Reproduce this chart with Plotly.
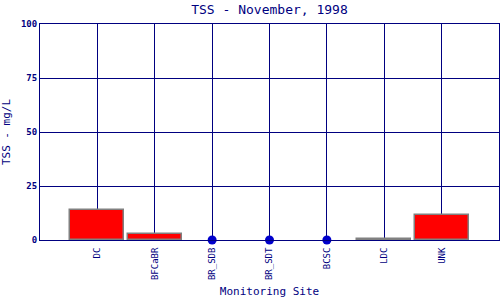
import plotly.graph_objects as go

sites = ["DC", "BFCaBR", "BR_SDB", "BR_SDT", "BCSC", "LDC", "UNK"]
tss = [13.9, 2.7, 0, 0, 0, 0.6, 11.6]

navy = "#000080"
font = "DejaVu Sans Mono"

bar_x = [s for s, v in zip(sites, tss) if v > 0]
bar_y = [v for v in tss if v > 0]
dot_x = [s for s, v in zip(sites, tss) if v == 0]
dot_y = [v for v in tss if v == 0]

fig = go.Figure()
fig.add_trace(go.Bar(x=bar_x, y=bar_y, width=0.94,
                     marker=dict(color="#FF0000", line=dict(color="#808080", width=1.5)),
                     showlegend=False))
fig.add_trace(go.Scatter(x=dot_x, y=dot_y, mode="markers",
                         marker=dict(color="#0000CC", size=9),
                         showlegend=False, cliponaxis=False))

fig.update_layout(
    width=500, height=300,
    margin=dict(l=40, r=1, t=24, b=60),
    paper_bgcolor="white", plot_bgcolor="white",
    title=dict(text="TSS - November, 1998", x=0.5, xref="paper", xanchor="center",
               y=0.97, yanchor="middle",
               font=dict(family=font, size=13, color=navy)),
    font=dict(family=font, color=navy),
    xaxis=dict(type="category", categoryorder="array", categoryarray=sites,
               range=[-1, 7], showgrid=True, gridcolor=navy, gridwidth=1,
               showline=True, linecolor=navy, linewidth=1, mirror=True,
               tickangle=-90, tickfont=dict(family=font, size=9, color=navy),
               ticks="outside", ticklen=3, tickcolor="rgba(0,0,0,0)", zeroline=False,
               title=dict(text="Monitoring Site", font=dict(family=font, size=11, color=navy), standoff=8)),
    yaxis=dict(range=[0, 100], tickvals=[0, 25, 50, 75, 100],
               ticktext=["<b>0</b>", "<b>25</b>", "<b>50</b>", "<b>75</b>", "<b>100</b>"],
               showgrid=True, gridcolor=navy, gridwidth=1,
               showline=True, linecolor=navy, linewidth=1, mirror=True,
               zeroline=True, zerolinecolor=navy, zerolinewidth=1,
               tickfont=dict(family=font, size=9, color=navy), ticks="",
               title=dict(text="TSS - mg/L", font=dict(family=font, size=11, color=navy), standoff=8)),
    bargap=0,
)

fig.write_html("out.html")
